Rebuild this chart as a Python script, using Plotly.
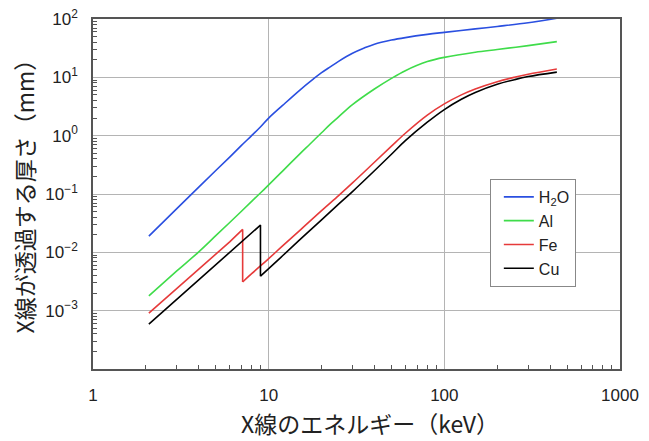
import plotly.graph_objects as go

# --- data ---
# energies in keV, thickness in mm

E_H2O = [2.08, 3, 4, 5, 6, 7, 8, 9, 10, 12, 15, 18, 20, 22.3, 25, 30, 35, 40, 50, 60, 80, 100, 150, 200, 300, 437]
T_H2O = [0.019, 0.056, 0.131, 0.253, 0.43, 0.68, 1.0, 1.42, 2.0, 3.3, 6.0, 9.4, 12.0, 15.0, 18.8, 25.8, 31.8, 37.0,
         43.5, 48.0, 54.5, 59.0, 67.7, 74.5, 86.0, 103.0]

E_AL = [2.08, 3, 4, 5, 6, 7, 8, 9, 10, 12, 15, 17.2, 20, 22.3, 25, 30, 40, 50, 60, 80, 100, 150, 200, 300, 437]
T_AL = [0.0018, 0.0048, 0.0102, 0.0193, 0.0325, 0.0507, 0.0746, 0.105, 0.143, 0.247, 0.483, 0.72, 1.12, 1.55, 2.1,
        3.4, 6.3, 9.6, 13.0, 18.6, 22.0, 27.0, 30.0, 35.0, 40.9]

# Fe K-edge at 7.11 keV, Cu K-edge at 8.98 keV (value listed twice: above / below the edge)
E_FE = [2.08, 3, 4, 5, 6, 7.11, 7.11, 8, 10, 12, 15, 20, 25, 30, 40, 50, 60, 80, 100, 125, 150, 200, 250, 300, 437]
T_FE = [0.00091, 0.0024, 0.00515, 0.0093, 0.0151, 0.0247, 0.0031, 0.0043, 0.0078, 0.0129, 0.0236, 0.052, 0.094,
        0.155, 0.35, 0.66, 1.1, 2.25, 3.5, 5.0, 6.3, 8.4, 10.0, 11.3, 13.9]
FE_EDGE = 6  # index of the first point below the edge

E_CU = [2.08, 3, 4, 5, 6, 7, 8, 8.98, 8.98, 10, 12, 15, 20, 25, 30, 40, 50, 60, 80, 100, 125, 150, 200, 250, 300, 437]
T_CU = [0.00059, 0.00157, 0.00338, 0.00614, 0.00998, 0.0151, 0.0215, 0.0293, 0.0039, 0.00526, 0.00873, 0.0163,
        0.0361, 0.0671, 0.11, 0.25, 0.48, 0.82, 1.7, 2.8, 4.2, 5.5, 7.6, 9.1, 10.3, 12.3]
CU_EDGE = 8

BLUE, GREEN, RED, BLACK = "#2a4fe0", "#3fdc4a", "#e63a3a", "#000000"

X_TICKS = [1, 10, 100, 1000]
X_LABELS = ["1", "10", "100", "1000"]
Y_TICKS = [1e-4, 1e-3, 1e-2, 1e-1, 1, 10, 100]
Y_LABELS = ["", "10<sup>−3</sup>", "10<sup>−2</sup>", "10<sup>−1</sup>", "10<sup>0</sup>", "10<sup>1</sup>",
            "10<sup>2</sup>"]
X_MINOR = [m * 10 ** k for k in range(3) for m in range(2, 10)]
Y_MINOR = [m * 10.0 ** k for k in range(-4, 2) for m in range(2, 10)]

fig = go.Figure()


def add_line(x, y, name, color, shape, legend=True):
    fig.add_trace(go.Scatter(x=x, y=y, mode="lines", name=name, legendgroup=name, showlegend=legend,
                             line=dict(color=color, width=1.6, shape=shape, smoothing=1.0)))


add_line(E_H2O, T_H2O, "H<sub>2</sub>O", BLUE, "spline")
add_line(E_AL, T_AL, "Al", GREEN, "spline")
# high-energy part smooth, low-energy part + edge drawn straight
add_line(E_FE[FE_EDGE:], T_FE[FE_EDGE:], "Fe", RED, "spline")
add_line(E_CU[CU_EDGE:], T_CU[CU_EDGE:], "Cu", BLACK, "spline")
add_line(E_FE[:FE_EDGE + 1], T_FE[:FE_EDGE + 1], "Fe", RED, "linear", legend=False)
add_line(E_CU[:CU_EDGE + 1], T_CU[:CU_EDGE + 1], "Cu", BLACK, "linear", legend=False)

tick_font = dict(family="Liberation Sans, Arial", size=17, color="#222222")
axis_common = dict(
    type="log", automargin=False, ticklabeloverflow="allow",
    showline=True, linecolor="#555555", linewidth=1.5, mirror=True,
    showgrid=True, gridcolor="#b4b4b4", gridwidth=1,
    zeroline=False,
    ticks="", tickmode="array",
    tickfont=tick_font,
)

# page body has an 8px margin, so the figure sits 8px right/down in the window
fig.update_layout(
    width=641, height=433,
    margin=dict(l=85, r=29, t=11, b=72),
    paper_bgcolor="white", plot_bgcolor="white",
    font=dict(family="Noto Sans CJK JP", color="#222222"),
    showlegend=True,
    legend=dict(x=0.753, y=0.543, xanchor="left", yanchor="top",
                bgcolor="white", bordercolor="#888888", borderwidth=1,
                itemwidth=30, indentation=8,
                font=dict(family="Liberation Sans, Arial", size=16, color="#222222"),
                tracegroupgap=0),
    xaxis=dict(axis_common, range=[0, 3], tickvals=X_TICKS, ticktext=X_LABELS, ticklabelstandoff=10,
               minor=dict(tickmode="array", tickvals=X_MINOR, ticks="inside", ticklen=4,
                          tickcolor="#555555", showgrid=False)),
    yaxis=dict(axis_common, range=[-4, 2], tickvals=Y_TICKS, ticktext=Y_LABELS, ticklabelstandoff=10,
               minor=dict(tickmode="array", tickvals=Y_MINOR, ticks="inside", ticklen=4,
                          tickcolor="#555555", showgrid=False)),
    annotations=[
        dict(text="X線のエネルギー（keV）", xref="paper", yref="paper", x=0.526, y=-0.155,
             xanchor="center", yanchor="middle", showarrow=False,
             font=dict(family="Noto Sans CJK JP", size=23, color="#222222")),
        dict(text="X線が透過する厚さ（mm）", xref="paper", yref="paper", x=-0.1328, y=0.51,
             xanchor="center", yanchor="middle", textangle=-90, showarrow=False,
             font=dict(family="Noto Sans CJK JP", size=23, color="#222222")),
    ],
)

fig.write_html("out.html")
